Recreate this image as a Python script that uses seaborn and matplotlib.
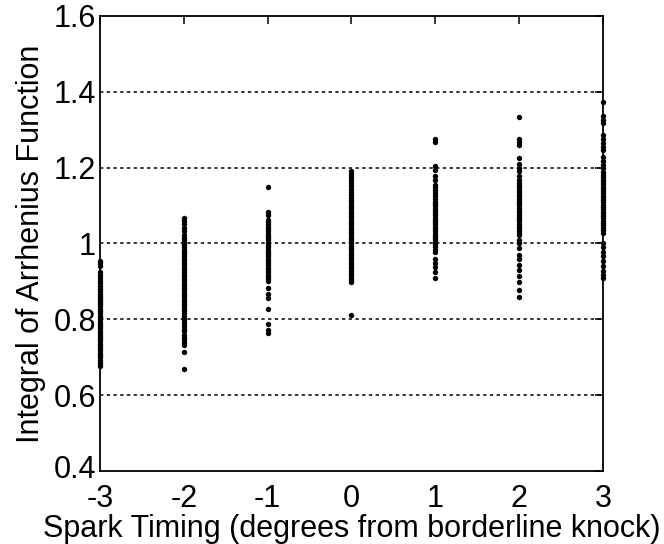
import matplotlib
matplotlib.use("Agg")
import matplotlib.pyplot as plt
import matplotlib.transforms as mtrans
import seaborn as sns
import pandas as pd

# ---- data ----
timing_levels = [-3, -2, -1, 0, 1, 2, 3]

vals_m3 = [0.955, 0.948, 0.94, 0.925, 0.918, 0.91, 0.902, 0.895, 0.888, 0.88, 0.874, 0.868,
           0.862, 0.856, 0.85, 0.845, 0.84, 0.834, 0.828, 0.822, 0.816, 0.81, 0.805, 0.8,
           0.794, 0.788, 0.782, 0.776, 0.77, 0.765, 0.76, 0.754, 0.748, 0.742, 0.736, 0.73,
           0.724, 0.718, 0.712, 0.706, 0.7, 0.694, 0.688, 0.682, 0.676]
vals_m2 = [1.068, 1.059, 1.05, 1.041, 1.033, 1.022, 1.015, 1.008, 1.002, 0.996, 0.99, 0.984,
           0.978, 0.972, 0.966, 0.96, 0.954, 0.948, 0.942, 0.936, 0.93, 0.924, 0.918, 0.912,
           0.906, 0.9, 0.894, 0.888, 0.882, 0.876, 0.87, 0.864, 0.858, 0.852, 0.846, 0.84,
           0.834, 0.828, 0.822, 0.816, 0.81, 0.804, 0.798, 0.79, 0.782, 0.775, 0.768, 0.76,
           0.752, 0.745, 0.738, 0.733, 0.715, 0.668]
vals_m1 = [1.148, 1.084, 1.075, 1.062, 1.056, 1.05, 1.044, 1.038, 1.032, 1.026, 1.02, 1.014,
           1.008, 1.002, 0.996, 0.99, 0.984, 0.978, 0.972, 0.966, 0.96, 0.954, 0.948, 0.942,
           0.936, 0.93, 0.924, 0.918, 0.912, 0.906, 0.9, 0.882, 0.866, 0.857, 0.826, 0.788,
           0.773, 0.763]
vals_0 = [1.192, 1.184, 1.176, 1.168, 1.16, 1.152, 1.144, 1.136, 1.128, 1.12, 1.114, 1.108,
          1.102, 1.096, 1.09, 1.084, 1.078, 1.072, 1.066, 1.06, 1.054, 1.048, 1.042, 1.036,
          1.03, 1.024, 1.018, 1.012, 1.006, 1.0, 0.994, 0.988, 0.982, 0.976, 0.97, 0.964,
          0.958, 0.952, 0.946, 0.94, 0.934, 0.928, 0.922, 0.916, 0.91, 0.904, 0.898, 0.812]
vals_p1 = [1.275, 1.268, 1.205, 1.193, 1.178, 1.168, 1.155, 1.148, 1.14, 1.132, 1.125, 1.118,
           1.11, 1.104, 1.098, 1.092, 1.086, 1.08, 1.074, 1.068, 1.062, 1.056, 1.05, 1.044,
           1.038, 1.032, 1.026, 1.02, 1.014, 1.008, 1.002, 0.996, 0.99, 0.984, 0.977, 0.958,
           0.948, 0.938, 0.926, 0.91]
vals_p2 = [1.333, 1.275, 1.268, 1.26, 1.224, 1.21, 1.2, 1.19, 1.178, 1.166, 1.16, 1.154,
           1.148, 1.142, 1.136, 1.13, 1.124, 1.118, 1.112, 1.106, 1.1, 1.094, 1.088, 1.082,
           1.076, 1.07, 1.064, 1.058, 1.052, 1.046, 1.04, 1.034, 1.028, 1.022, 1.008, 1.0,
           0.988, 0.97, 0.958, 0.943, 0.93, 0.915, 0.898, 0.877, 0.858]
vals_p3 = [1.372, 1.335, 1.325, 1.318, 1.285, 1.275, 1.265, 1.255, 1.245, 1.228, 1.218, 1.208,
           1.198, 1.188, 1.18, 1.174, 1.168, 1.162, 1.156, 1.15, 1.144, 1.138, 1.132, 1.126,
           1.12, 1.114, 1.108, 1.102, 1.096, 1.09, 1.084, 1.078, 1.072, 1.066, 1.06, 1.054,
           1.048, 1.042, 1.036, 1.028, 1.0, 0.99, 0.978, 0.966, 0.955, 0.94, 0.928, 0.918, 0.91]

x_ticks = [-3, -2, -1, 0, 1, 2, 3]
x_tick_labels = ["-3", "-2", "-1", "0", "1", "2", "3"]
y_ticks = [0.4, 0.6, 0.8, 1.0, 1.2, 1.4, 1.6]
y_tick_labels = ["0.4", "0.6", "0.8", "1", "1.2", "1.4", "1.6"]
x_label = "Spark Timing (degrees from borderline knock)"
y_label = "Integral of Arrhenius Function"

# ---- build long table ----
columns = [vals_m3, vals_m2, vals_m1, vals_0, vals_p1, vals_p2, vals_p3]
rows = []
for lvl, vals in zip(timing_levels, columns):
    for v in vals:
        rows.append((lvl, v))
df = pd.DataFrame(rows, columns=["timing", "arrhenius"])

sns.set_style("white")
plt.rcParams["font.family"] = ["Liberation Sans", "DejaVu Sans"]
plt.rcParams["axes.unicode_minus"] = False

fig = plt.figure(figsize=(6.64, 5.44), dpi=100)
ax = fig.add_axes([0.1506, 0.134, 0.7575, 0.837])

sns.scatterplot(data=df, x="timing", y="arrhenius", ax=ax, color="black",
                s=15, linewidth=0, edgecolor="black", clip_on=False, zorder=5)

ax.set_xlim(-3, 3)
ax.set_ylim(0.4, 1.6)
ax.set_xticks(x_ticks)
ax.set_xticklabels(x_tick_labels)
ax.set_yticks(y_ticks)
ax.set_yticklabels(y_tick_labels)

for yv in y_ticks[1:-1]:
    ax.axhline(yv, color="black", linewidth=1.1, linestyle=(0, (2.2, 2.2)), zorder=1)

for sp in ax.spines.values():
    sp.set_color("black")
    sp.set_linewidth(1.3)

ax.tick_params(direction="in", length=6, width=1.1, colors="black",
               top=True, right=True, labelsize=22)
ax.tick_params(axis="x", pad=9)
ax.tick_params(axis="y", pad=3)

# nudge the bottom y label ("0.4") up slightly so it does not collide with "-3"
lbl = ax.get_yticklabels()[0]
lbl.set_transform(lbl.get_transform() + mtrans.ScaledTranslation(0, 3 / 72, fig.dpi_scale_trans))

ax.set_xlabel(x_label, fontsize=22, color="black", labelpad=0)
ax.set_ylabel(y_label, fontsize=22, color="black", labelpad=5)

fig.savefig("out.png", dpi=100)
